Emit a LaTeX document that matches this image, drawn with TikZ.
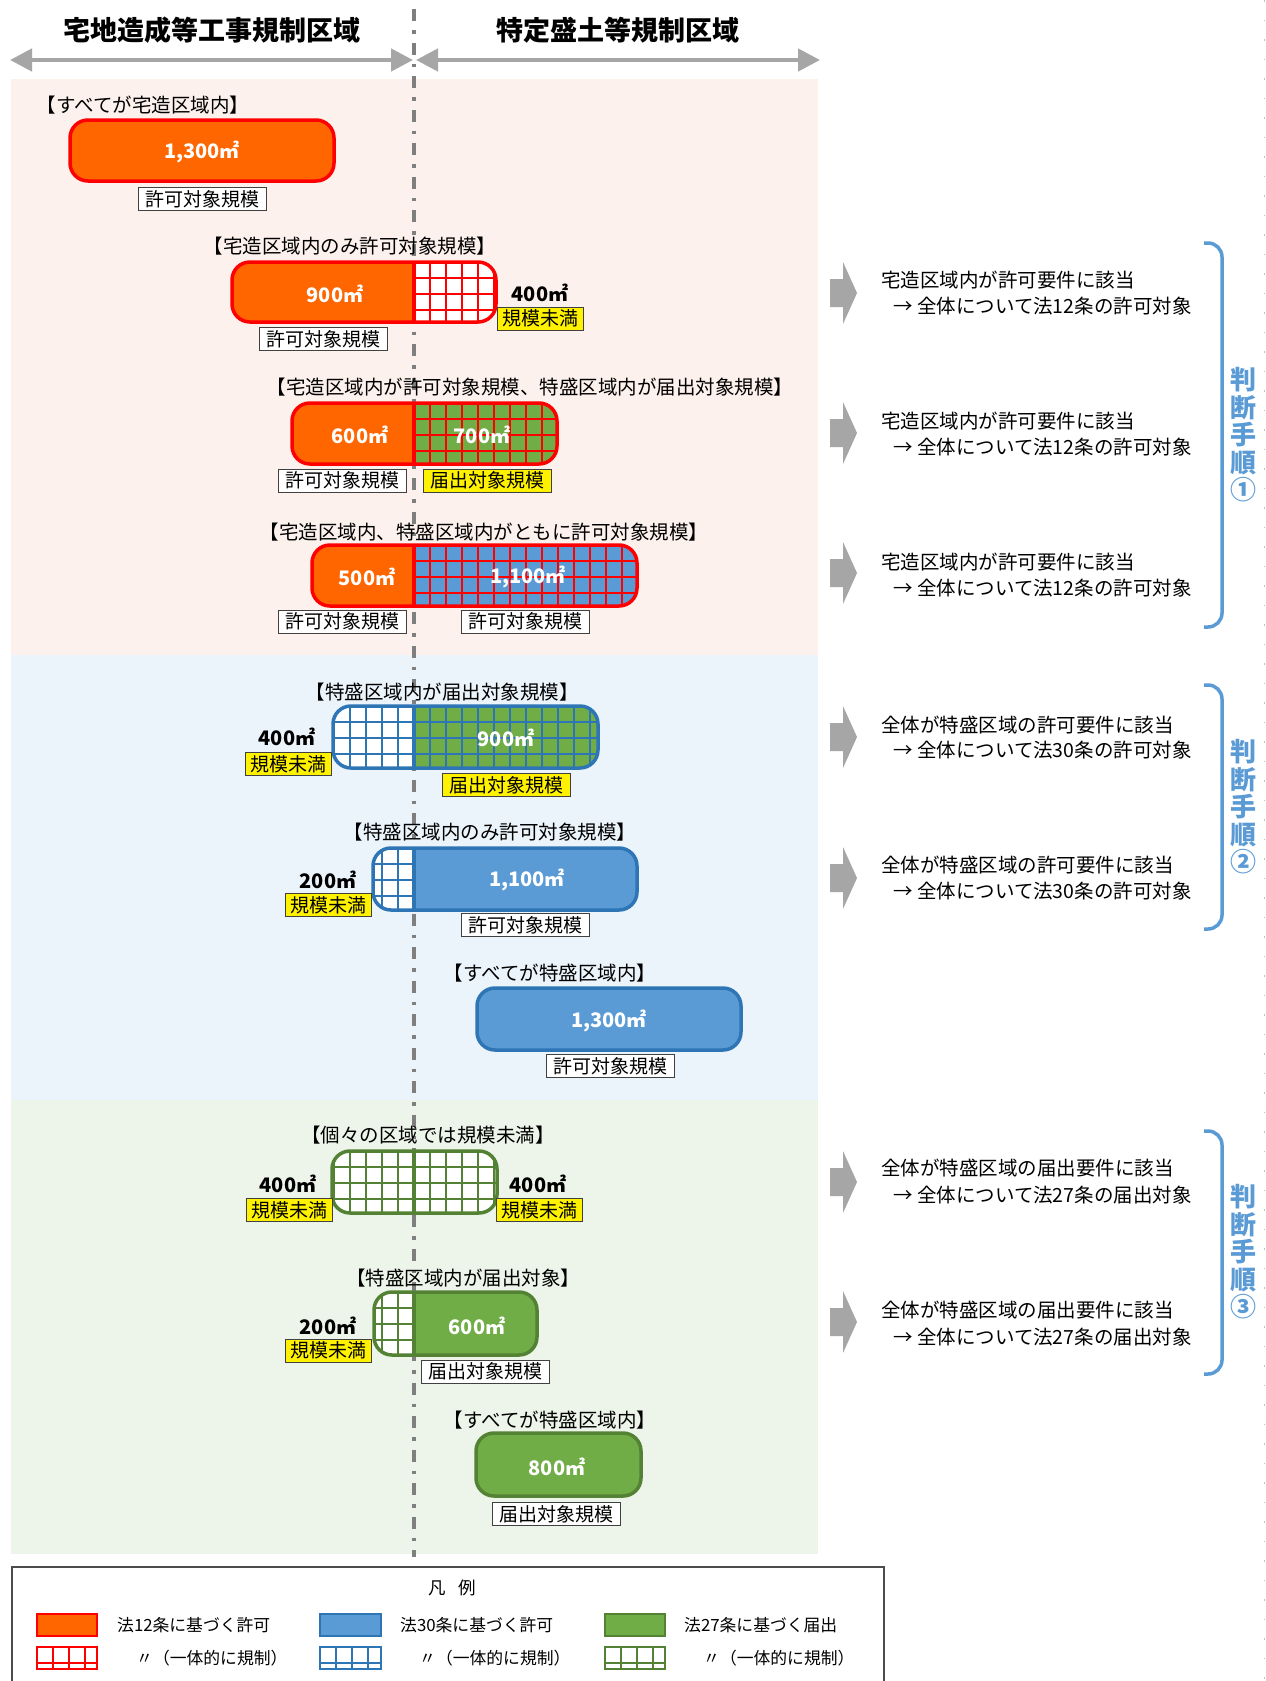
\documentclass[tikz,border=0pt]{standalone}
\usepackage{fontspec}
\setmainfont{Noto Sans CJK JP}
\usetikzlibrary{arrows.meta}

\definecolor{zred}{HTML}{FF0000}
\definecolor{zorange}{HTML}{FF6600}
\definecolor{zblue}{HTML}{5B9BD5}
\definecolor{zblueedge}{HTML}{2E75B6}
\definecolor{zgreen}{HTML}{70AD47}
\definecolor{zgreenedge}{HTML}{548235}
\definecolor{bandpink}{HTML}{FCF1EC}
\definecolor{bandblue}{HTML}{EBF3FB}
\definecolor{bandgreen}{HTML}{EDF4E9}
\definecolor{arrowgray}{HTML}{A6A6A6}
\definecolor{divgray}{HTML}{7F7F7F}
\definecolor{stepblue}{HTML}{5B9BD5}
\definecolor{tagedge}{HTML}{404040}

% grid of 16pt cells to the right of the split line xs
\newcommand\hatchR[5]{%
  \begin{scope}
    \clip (#2,#3) rectangle (#4,#5);
    \foreach \k in {1,...,16} {\draw[#1, line width=2pt] ({#2+16*\k},#3) -- ({#2+16*\k},#5);}
    \foreach \k in {1,2,3} {\draw[#1, line width=2pt] (#2,{#3+16*\k}) -- (#4,{#3+16*\k});}
  \end{scope}}
% grid of 16pt cells to the left of the split line xs
\newcommand\hatchL[5]{%
  \begin{scope}
    \clip (#4,#3) rectangle (#2,#5);
    \foreach \k in {1,...,16} {\draw[#1, line width=2pt] ({#2-16*\k},#3) -- ({#2-16*\k},#5);}
    \foreach \k in {1,2,3} {\draw[#1, line width=2pt] (#4,{#3+16*\k}) -- (#2,{#3+16*\k});}
  \end{scope}}
% rounded area bar: x1,y1,x2,y2,edge colour,interior drawing
\newcommand\zonebar[6]{%
  \begin{scope}
    \clip[rounded corners=18pt] (#1,#2) rectangle (#3,#4);
    #6
  \end{scope}
  \draw[#5, line width=3.5pt, rounded corners=18pt] (#1,#2) rectangle (#3,#4);}
% grey block arrow pointing right, centred at height #1
\newcommand\blockarrow[1]{%
  \fill[arrowgray] (830,{#1-14}) -- (843,{#1-14}) -- (843,{#1-31}) -- (857,#1)
    -- (843,{#1+31}) -- (843,{#1+14}) -- (830,{#1+14}) -- cycle;}

\begin{document}
\begin{tikzpicture}[x=1pt,y=-1pt,
  title/.style={font=\fontsize{27}{27}\selectfont\bfseries, inner sep=0pt},
  case/.style={font=\fontsize{19.5}{19.5}\selectfont, inner sep=0pt},
  area/.style={font=\fontsize{20}{20}\selectfont\bfseries, text=white, inner sep=0pt},
  areak/.style={area, text=black},
  tagw/.style={draw=tagedge, fill=white, line width=1pt, font=\fontsize{19}{19}\selectfont,
    inner xsep=0pt, inner ysep=0pt, minimum width=128pt, minimum height=23pt},
  tagy/.style={tagw, fill=yellow},
  tagys/.style={tagy, minimum width=86pt},
  rtext/.style={font=\fontsize{19.5}{19.5}\selectfont, anchor=west, inner sep=0pt},
  steplabel/.style={font=\fontsize{26}{27.5}\selectfont\bfseries, text=stepblue, align=center, inner sep=0pt},
  bracket/.style={stepblue, line width=3.5pt, rounded corners=14pt},
  legtext/.style={font=\fontsize{16.8}{16.8}\selectfont, anchor=west, inner sep=0pt},
  swatch/.style={line width=2.7pt}
]
\useasboundingbox (0,0) rectangle (1266,1681);
\fill[white] (0,0) rectangle (1266,1681);

% faint dotted edge on the right
\draw[black!25, line width=1pt, dash pattern=on 1.5pt off 18pt] (1264,0) -- (1264,1681);

% background bands
\fill[bandpink] (11,79) rectangle (818,655);
\fill[bandblue] (11,655) rectangle (818,1100);
\fill[bandgreen] (11,1100) rectangle (818,1554);

% headings and their extent arrows
\node[title] (hL) at (212,30) {宅地造成等工事規制区域};
\node[title] (hR) at (618,30) {特定盛土等規制区域};
\coordinate (aL1) at (10,60);  \coordinate (aL2) at (413,60);
\coordinate (aR1) at (416,60); \coordinate (aR2) at (820,60);
\draw[arrowgray, line width=4.5pt, {Triangle[length=22pt,width=22pt]}-{Triangle[length=22pt,width=22pt]}] (aL1) -- (aL2);
\draw[arrowgray, line width=4.5pt, {Triangle[length=22pt,width=22pt]}-{Triangle[length=22pt,width=22pt]}] (aR1) -- (aR2);

% boundary between the two zones
\coordinate (dTop) at (414,9); \coordinate (dBot) at (414,1557);
\draw[divgray, line width=3.2pt, dash pattern=on 12pt off 9pt on 3.5pt off 9pt] (dTop) -- (dBot);

% ---------- case 1
\node[case] (c1) at (143,105) {【すべてが宅造区域内】};
\zonebar{70}{120}{334}{181}{zred}{\fill[zorange] (70,120) rectangle (334,181);}
\node[area] (c1a) at (202,152) {1,300㎡};
\node[tagw] (c1t) at (202,199) {許可対象規模};

% ---------- case 2
\node[case] (c2) at (350,246) {【宅造区域内のみ許可対象規模】};
\zonebar{232}{262}{496}{322}{zred}{%
  \fill[zorange] (232,262) rectangle (414,322);
  \fill[white] (414,262) rectangle (496,322);
  \hatchR{zred}{414}{262}{496}{322}}
\draw[zred, line width=4pt] (414,262) -- (414,322);
\node[area] (c2a) at (335,294) {900㎡};
\node[areak] (c2b) at (540,293) {400㎡};
\node[tagys] (c2y) at (540,318.5) {規模未満};
\node[tagw] (c2t) at (323.5,339) {許可対象規模};

% ---------- case 3
\node[case] (c3) at (530,387) {【宅造区域内が許可対象規模、特盛区域内が届出対象規模】};
\zonebar{292}{403}{557}{464}{zred}{%
  \fill[zorange] (292,403) rectangle (414,464);
  \fill[zgreen] (414,403) rectangle (557,464);
  \hatchR{zred}{414}{403}{557}{464}}
\draw[zred, line width=4pt] (414,403) -- (414,464);
\node[area] (c3a) at (360,435) {600㎡};
\node[area] (c3b) at (482,435) {700㎡};
\node[tagw] (c3t) at (342.5,480.5) {許可対象規模};
\node[tagy] (c3y) at (487.5,480.5) {届出対象規模};

% ---------- case 4
\node[case] (c4) at (484,532) {【宅造区域内、特盛区域内がともに許可対象規模】};
\zonebar{312}{545}{637}{606}{zred}{%
  \fill[zorange] (312,545) rectangle (414,606);
  \fill[zblue] (414,545) rectangle (637,606);
  \hatchR{zred}{414}{545}{637}{606}}
\draw[zred, line width=4pt] (414,545) -- (414,606);
\node[area] (c4a) at (367,577) {500㎡};
\node[area] (c4b) at (528,577) {1,100㎡};
\node[tagw] (c4t) at (342.5,621.5) {許可対象規模};
\node[tagw] (c4u) at (525,621.5) {許可対象規模};

% ---------- case 5
\node[case] (c5) at (442,692) {【特盛区域内が届出対象規模】};
\zonebar{333}{706}{598}{768}{zblueedge}{%
  \fill[white] (333,706) rectangle (414,768);
  \fill[zgreen] (414,706) rectangle (598,768);
  \hatchL{zblueedge}{414}{706}{333}{768}
  \hatchR{zblueedge}{414}{706}{598}{768}}
\draw[zblueedge, line width=4pt] (414,706) -- (414,768);
\node[area] (c5a) at (506,738) {900㎡};
\node[areak] (c5b) at (287,737) {400㎡};
\node[tagys] (c5y) at (288.5,764) {規模未満};
\node[tagy] (c5t) at (506.5,785) {届出対象規模};

% ---------- case 6
\node[case] (c6) at (490,832) {【特盛区域内のみ許可対象規模】};
\zonebar{373}{848}{637}{910}{zblueedge}{%
  \fill[white] (373,848) rectangle (414,910);
  \fill[zblue] (414,848) rectangle (637,910);
  \hatchL{zblueedge}{414}{848}{373}{910}}
\draw[zblueedge, line width=4pt] (414,848) -- (414,910);
\node[area] (c6a) at (527,880) {1,100㎡};
\node[areak] (c6b) at (328,880) {200㎡};
\node[tagys] (c6y) at (328.5,905) {規模未満};
\node[tagw] (c6t) at (525,925) {許可対象規模};

% ---------- case 7
\node[case] (c7) at (550,973) {【すべてが特盛区域内】};
\zonebar{477}{988}{741}{1050}{zblueedge}{\fill[zblue] (477,988) rectangle (741,1050);}
\node[area] (c7a) at (609,1021) {1,300㎡};
\node[tagw] (c7t) at (610,1066) {許可対象規模};

% ---------- case 8
\node[case] (c8) at (428,1135) {【個々の区域では規模未満】};
\zonebar{332}{1151}{497}{1213}{zgreenedge}{%
  \fill[white] (332,1151) rectangle (497,1213);
  \hatchL{zgreenedge}{414}{1151}{332}{1213}
  \hatchR{zgreenedge}{414}{1151}{497}{1213}}
\draw[zgreenedge, line width=4pt] (414,1151) -- (414,1213);
\node[areak] (c8a) at (288,1184) {400㎡};
\node[tagys] (c8y) at (289.5,1210) {規模未満};
\node[areak] (c8b) at (538,1184) {400㎡};
\node[tagys] (c8z) at (539,1210) {規模未満};

% ---------- case 9
\node[case] (c9) at (463,1278) {【特盛区域内が届出対象】};
\zonebar{374}{1292}{537}{1355}{zgreenedge}{%
  \fill[white] (374,1292) rectangle (414,1355);
  \fill[zgreen] (414,1292) rectangle (537,1355);
  \hatchL{zgreenedge}{414}{1292}{374}{1355}}
\draw[zgreenedge, line width=4pt] (414,1292) -- (414,1355);
\node[area] (c9a) at (477,1326) {600㎡};
\node[areak] (c9b) at (328,1326) {200㎡};
\node[tagys] (c9y) at (328.5,1350.5) {規模未満};
\node[tagw] (c9t) at (485.5,1371.5) {届出対象規模};

% ---------- case 10
\node[case] (c10) at (550,1420) {【すべてが特盛区域内】};
\zonebar{476}{1433}{641}{1496}{zgreenedge}{\fill[zgreen] (476,1433) rectangle (641,1496);}
\node[area] (c10a) at (557,1467) {800㎡};
\node[tagw] (c10t) at (556.5,1514) {届出対象規模};

% ---------- judgement steps
\blockarrow{293} \blockarrow{433} \blockarrow{573}
\node[rtext] (j1a) at (881,280) {宅造区域内が許可要件に該当};
\node[rtext] (j1b) at (893,306) {→ 全体について法12条の許可対象};
\node[rtext] (j2a) at (881,421) {宅造区域内が許可要件に該当};
\node[rtext] (j2b) at (893,447) {→ 全体について法12条の許可対象};
\node[rtext] (j3a) at (881,562) {宅造区域内が許可要件に該当};
\node[rtext] (j3b) at (893,588) {→ 全体について法12条の許可対象};
\draw[bracket] (1204,243) -- (1222,243) -- (1222,627) -- (1204,627);
\node[steplabel] (s1) at (1243,435) {判\\断\\手\\順\\①};

\blockarrow{737} \blockarrow{878}
\node[rtext] (j4a) at (881,725) {全体が特盛区域の許可要件に該当};
\node[rtext] (j4b) at (893,750) {→ 全体について法30条の許可対象};
\node[rtext] (j5a) at (881,865) {全体が特盛区域の許可要件に該当};
\node[rtext] (j5b) at (893,891) {→ 全体について法30条の許可対象};
\draw[bracket] (1204,685) -- (1222,685) -- (1222,929) -- (1204,929);
\node[steplabel] (s2) at (1243,807) {判\\断\\手\\順\\②};

\blockarrow{1182} \blockarrow{1322}
\node[rtext] (j6a) at (881,1168) {全体が特盛区域の届出要件に該当};
\node[rtext] (j6b) at (893,1195) {→ 全体について法27条の届出対象};
\node[rtext] (j7a) at (881,1310) {全体が特盛区域の届出要件に該当};
\node[rtext] (j7b) at (893,1337) {→ 全体について法27条の届出対象};
\draw[bracket] (1204,1131) -- (1222,1131) -- (1222,1374) -- (1204,1374);
\node[steplabel] (s3) at (1243,1252) {判\\断\\手\\順\\③};

% ---------- legend
\draw[black!70, line width=1.2pt, fill=white] (12,1567) rectangle (884,1700);
\node[font=\fontsize{17.5}{17.5}\selectfont, inner sep=0pt] (lg) at (452,1588) {凡\hspace{0.7em}例};

\draw[swatch, zred, fill=zorange] (37,1614) rectangle (97,1636);
\draw[swatch, zblueedge, fill=zblue] (320,1614) rectangle (381,1636);
\draw[swatch, zgreenedge, fill=zgreen] (605,1614) rectangle (665,1636);
\node[legtext] (l1) at (117,1625) {法12条に基づく許可};
\node[legtext] (l2) at (400,1625) {法30条に基づく許可};
\node[legtext] (l3) at (684,1625) {法27条に基づく届出};

\fill[white] (37,1647) rectangle (97,1669);
\hatchR{zred}{37}{1647}{97}{1669}
\draw[swatch, zred] (37,1647) rectangle (97,1669);
\fill[white] (320,1647) rectangle (381,1669);
\hatchR{zblueedge}{320}{1647}{381}{1669}
\draw[swatch, zblueedge] (320,1647) rectangle (381,1669);
\fill[white] (605,1647) rectangle (665,1669);
\hatchR{zgreenedge}{605}{1647}{665}{1669}
\draw[swatch, zgreenedge] (605,1647) rectangle (665,1669);
\node[legtext] (l4) at (136,1658) {〃（一体的に規制）};
\node[legtext] (l5) at (419,1658) {〃（一体的に規制）};
\node[legtext] (l6) at (703,1658) {〃（一体的に規制）};
\end{tikzpicture}
\end{document}
